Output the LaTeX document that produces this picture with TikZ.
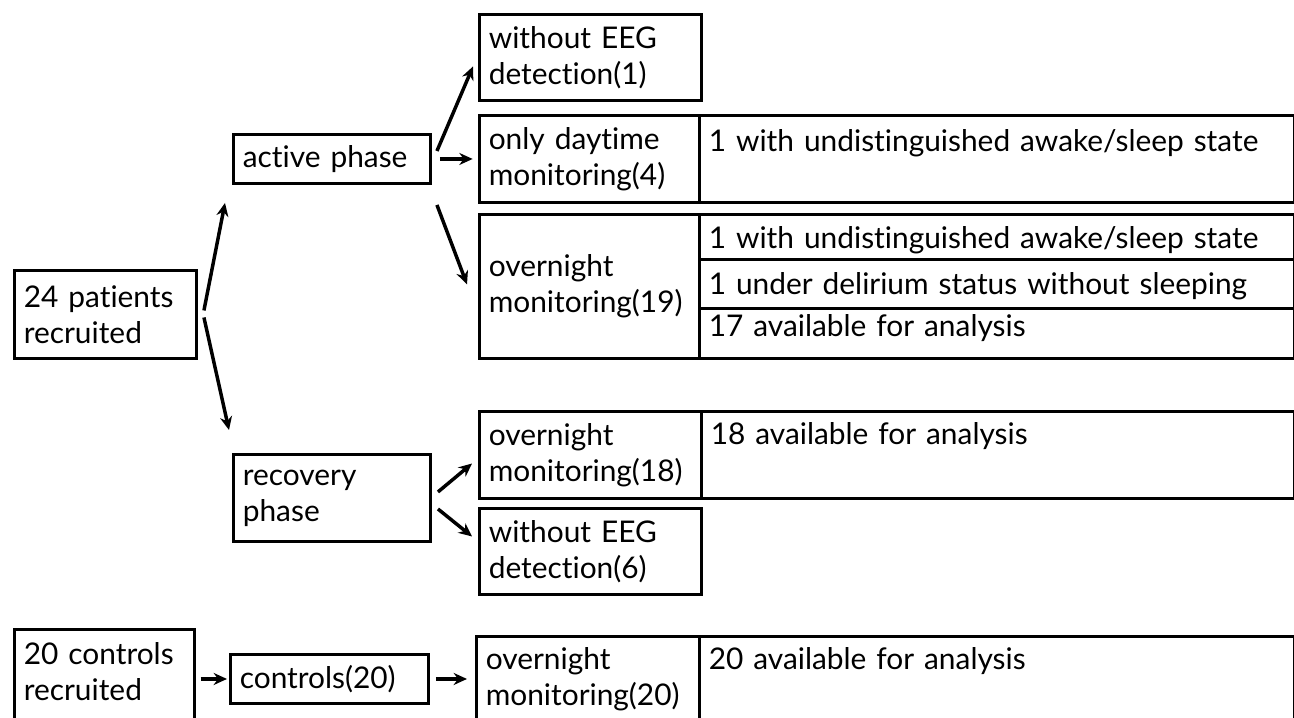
\documentclass[tikz,border=0pt]{standalone}
\usepackage{fontspec}
\setmainfont{Lato}[Ligatures={NoCommon, NoContextual}]
\usetikzlibrary{arrows.meta}
\tikzset{
    every node/.style={rectangle, draw, line width=2.2pt, anchor=north west, inner xsep=7pt, inner ysep=0pt, align=left, font=\fontsize{22.4}{27}\selectfont}
}
\tikzset{arr/.style={line width=2.6pt, -{Stealth[length=10pt, width=9pt]}}}
\tikzset{toprow/.style 2 args={text height=#1, text depth=#2}}

\begin{document}
\begin{tikzpicture}[x=0.75pt, y=-0.75pt]
    \useasboundingbox (0, 0) rectangle (1294, 717);

    % patients
    \node (pat) [text width=122.5pt, minimum height=66pt] at (13, 269) {24 patients\\recruited};
    \node (act) [text width=133.75pt, minimum height=36.75pt] at (232, 133) {active phase};
    \node (rec) [text width=133.75pt, minimum height=65.25pt] at (232, 453) {recovery\\phase};

    \node (w1) [text width=152.5pt, minimum height=64.5pt] at (478, 13) {without EEG\\detection(1)};
    \node (day) [text width=151pt, minimum height=65.25pt] at (478, 114) {only daytime\\monitoring(4)};
    \node (o19) [text width=151pt, minimum height=108pt] at (478, 213) {overnight\\monitoring(19)};
    \node (o18) [text width=152.5pt, minimum height=65.25pt] at (478, 410) {overnight\\monitoring(18)};
    \node (w6) [text width=152.5pt, minimum height=64.5pt] at (478, 507) {without EEG\\detection(6)};

    \node (dayr) [text width=432.25pt, toprow={27pt}{38.25pt}] at (698, 114) {1 with undistinguished awake/sleep state};
    \node (o19a) [text width=432.25pt, toprow={25.5pt}{8.25pt}] at (698, 213) {1 with undistinguished awake/sleep state};
    \node (o19b) [text width=432.25pt, toprow={26.25pt}{10.5pt}] at (698, 258) {1 under delirium status without sleeping};
    \node (o19c) [text width=432.25pt, toprow={21pt}{16.5pt}] at (698, 307) {17 available for analysis};
    \node (o18r) [text width=431pt, toprow={24.75pt}{40.5pt}] at (700, 410) {18 available for analysis};

    % controls
    \node (ctr) [text width=121pt, toprow={26.25pt}{48pt}] at (13, 628) {20 controls\\recruited};
    \node (c20) [text width=134.5pt, minimum height=36.75pt] at (229, 653) {controls(20)};
    \node (o20) [text width=153.25pt, toprow={24.75pt}{45pt}] at (475, 635) {overnight\\monitoring(20)};
    \node (o20r) [text width=432.25pt, toprow={24.75pt}{45pt}] at (698, 635) {20 available for analysis};

    \draw[arr] ([shift={(4.5pt, 3pt)}]pat.east) -- ([shift={(-5.25pt, -13.5pt)}]act.south west);
    \draw[arr] ([shift={(4.5pt, -2.25pt)}]pat.east) -- ([shift={(-2.25pt, 17.25pt)}]rec.north west);
    \draw[arr] ([shift={(3.75pt, -13.5pt)}]act.north east) -- ([shift={(-3.75pt, -6.75pt)}]w1.west);
    \draw[arr] ([xshift=6pt]act.east) -- ([xshift=-4pt]day.west);
    \draw[arr] ([shift={(3.75pt, -15pt)}]act.south east) -- ([shift={(-8.25pt, 1.5pt)}]o19.west);
    \draw[arr] ([shift={(4.5pt, 4.5pt)}]rec.east) -- ([shift={(-4.5pt, -6.4pt)}]o18.west);
    \draw[arr] ([shift={(4.5pt, -8.25pt)}]rec.east) -- ([shift={(-4.5pt, 11.25pt)}]w6.west);
    \draw[arr] ([xshift=3.5pt]ctr.east |- c20.west) -- ([xshift=-1.5pt]c20.west);
    \draw[arr] ([xshift=4.5pt]c20.east) -- ([xshift=-6pt]o20.west |- c20.east);
\end{tikzpicture}
\end{document}
